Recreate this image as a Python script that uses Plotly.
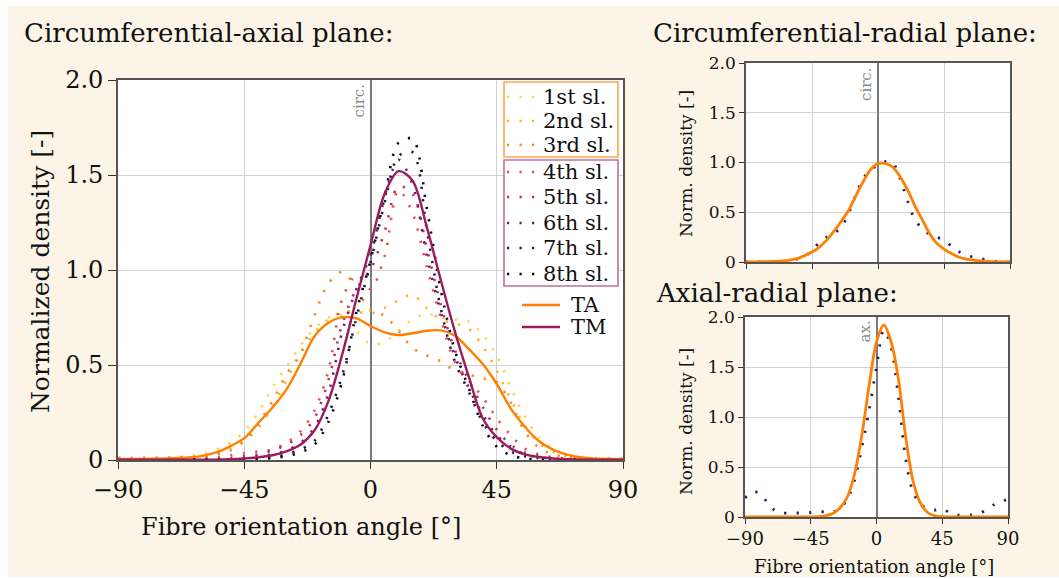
import plotly.graph_objects as go

FONT = "DejaVu Serif"
W, H = 1059, 579

# ---------------- data ----------------
ANGLES = list(range(-90, 91, 5))

slice_names = ["1st sl.", "2nd sl.", "3rd sl.", "4th sl.", "5th sl.", "6th sl.", "7th sl.", "8th sl."]
slice_colors = ["#fcd44a", "#fbb21f", "#f7891d", "#e6504a", "#b6305f", "#6b1b6f", "#2c1152", "#0a0612"]

s1 = [0.01, 0.01, 0.01, 0.012, 0.015, 0.02, 0.03, 0.055, 0.09, 0.15, 0.25, 0.38, 0.49, 0.6, 0.69, 0.75, 0.76, 0.68, 0.61,
      0.62, 0.68, 0.74, 0.77, 0.75, 0.74, 0.73, 0.66, 0.55, 0.38, 0.23, 0.12, 0.06, 0.03, 0.015, 0.01, 0.01, 0.01]
s2 = [0.01, 0.01, 0.01, 0.01, 0.012, 0.015, 0.02, 0.035, 0.06, 0.1, 0.17, 0.28, 0.42, 0.56, 0.67, 0.74, 0.78, 0.78, 0.77,
      0.8, 0.84, 0.87, 0.8, 0.74, 0.72, 0.69, 0.6, 0.47, 0.32, 0.18, 0.09, 0.045, 0.02, 0.012, 0.008, 0.006, 0.005]
s3 = [0.01, 0.01, 0.01, 0.01, 0.012, 0.015, 0.02, 0.03, 0.05, 0.1, 0.19, 0.31, 0.45, 0.56, 0.76, 0.93, 0.99, 0.9, 0.79,
      0.76, 0.68, 0.59, 0.55, 0.52, 0.47, 0.45, 0.43, 0.41, 0.3, 0.15, 0.065, 0.03, 0.015, 0.01, 0.008, 0.006, 0.005]
s4 = [0.005, 0.005, 0.005, 0.005, 0.006, 0.008, 0.01, 0.015, 0.025, 0.035, 0.045, 0.055, 0.09, 0.15, 0.26, 0.47, 0.85, 0.97, 0.9,
      1.07, 1.42, 1.3, 1.02, 0.75, 0.52, 0.42, 0.33, 0.22, 0.13, 0.06, 0.03, 0.015, 0.008, 0.006, 0.005, 0.005, 0.005]
s5 = [0.003, 0.003, 0.003, 0.003, 0.003, 0.003, 0.003, 0.003, 0.01, 0.02, 0.03, 0.05, 0.08, 0.13, 0.22, 0.42, 0.72, 0.9, 1.0,
      1.2, 1.44, 1.4, 1.12, 0.82, 0.58, 0.42, 0.28, 0.16, 0.08, 0.04, 0.02, 0.01, 0.005, 0.003, 0.003, 0.003, 0.003]
s6 = [0.002, 0.002, 0.002, 0.002, 0.002, 0.002, 0.002, 0.002, 0.002, 0.01, 0.02, 0.03, 0.05, 0.09, 0.17, 0.35, 0.68, 0.9, 1.08,
      1.38, 1.58, 1.45, 1.08, 0.78, 0.55, 0.38, 0.24, 0.13, 0.07, 0.03, 0.015, 0.008, 0.004, 0.002, 0.002, 0.002, 0.002]
s7 = [0.002, 0.002, 0.002, 0.002, 0.002, 0.002, 0.002, 0.002, 0.002, 0.002, 0.008, 0.015, 0.03, 0.055, 0.1, 0.24, 0.45, 0.75, 1.04,
      1.35, 1.6, 1.62, 1.22, 0.8, 0.52, 0.36, 0.2, 0.1, 0.045, 0.02, 0.01, 0.005, 0.002, 0.002, 0.002, 0.002, 0.002]
s8 = [0.002, 0.002, 0.002, 0.002, 0.002, 0.002, 0.002, 0.002, 0.002, 0.002, 0.005, 0.01, 0.02, 0.04, 0.08, 0.2, 0.42, 0.78, 1.05,
      1.38, 1.67, 1.69, 1.33, 0.9, 0.58, 0.38, 0.18, 0.07, 0.025, 0.008, 0.004, 0.002, 0.002, 0.002, 0.002, 0.002, 0.002]
slices = [s1, s2, s3, s4, s5, s6, s7, s8]

ta_fit = [0.005, 0.005, 0.006, 0.007, 0.009, 0.013, 0.022, 0.04, 0.072, 0.115, 0.195, 0.275, 0.37, 0.505, 0.65, 0.722, 0.752, 0.745, 0.705,
          0.672, 0.658, 0.667, 0.68, 0.682, 0.655, 0.585, 0.505, 0.4, 0.27, 0.175, 0.1, 0.055, 0.028, 0.013, 0.007, 0.005, 0.004]
tm_fit = [0.002, 0.002, 0.002, 0.002, 0.002, 0.002, 0.002, 0.002, 0.004, 0.008, 0.014, 0.025, 0.045, 0.08, 0.155, 0.31, 0.56, 0.85, 1.13,
          1.4, 1.52, 1.47, 1.23, 0.95, 0.68, 0.44, 0.22, 0.12, 0.06, 0.03, 0.016, 0.008, 0.004, 0.002, 0.002, 0.002, 0.002]
fit_names = ["TA", "TM"]

cr_fit = [0, 0.001, 0.002, 0.003, 0.005, 0.01, 0.02, 0.035, 0.065, 0.1, 0.15, 0.22, 0.31, 0.41, 0.52, 0.67, 0.81, 0.93, 0.99,
          0.99, 0.955, 0.86, 0.73, 0.57, 0.43, 0.29, 0.19, 0.13, 0.085, 0.05, 0.03, 0.018, 0.01, 0.006, 0.003, 0.001, 0]
cr_data = [0, 0, 0, 0, 0, 0.002, 0.01, 0.03, 0.06, 0.11, 0.2, 0.25, 0.29, 0.35, 0.49, 0.68, 0.84, 0.93, 0.97,
           1.01, 1.0, 0.84, 0.62, 0.43, 0.34, 0.28, 0.25, 0.22, 0.16, 0.105, 0.07, 0.05, 0.035, 0.02, 0.007, 0.002, 0]

ar_fit = [0, 0, 0, 0, 0, 0, 0, 0, 0, 0.001, 0.003, 0.012, 0.035, 0.09, 0.2, 0.43, 0.82, 1.32, 1.75,
          1.92, 1.75, 1.38, 0.8, 0.36, 0.14, 0.045, 0.012, 0.003, 0, 0, 0, 0, 0, 0, 0, 0, 0]
ar_data = [0.19, 0.25, 0.24, 0.15, 0.07, 0.04, 0.04, 0.04, 0.04, 0.045, 0.055, 0.05, 0.05, 0.085, 0.18, 0.37, 0.7, 1.07, 1.5,
           1.87, 1.7, 1.2, 0.58, 0.25, 0.13, 0.08, 0.07, 0.085, 0.04, 0.02, 0.02, 0.02, 0.035, 0.07, 0.12, 0.15, 0.18]

x_ticks = [-90, -45, 0, 45, 90]
x_ticktext = ["\u221290", "\u221245", "0", "45", "90"]
y_ticks = [0, 0.5, 1.0, 1.5, 2.0]
y_ticktext = ["0", "0.5", "1.0", "1.5", "2.0"]

# ---------------- style ----------------
ORANGE = "#ff8000"
TM_COL = "#9a1d5a"
NAVY = "#2b1a62"
DOT = "2.2px,10.3px"
GRID = "#d2d2d2"
TXT = "#111111"


def px_x(p):            # window pixel -> paper fraction
    return p / W


def px_y(p):
    return 1 - p / H


fig = go.Figure()

for name, col, vals in zip(slice_names, slice_colors, slices):
    fig.add_trace(go.Scatter(
        x=ANGLES, y=vals, name=name, mode="lines", showlegend=False,
        line=dict(color=col, width=2.6, dash=DOT, shape="spline", smoothing=0.9),
        xaxis="x", yaxis="y", hoverinfo="skip"))

for name, col, vals in zip(fit_names, [ORANGE, TM_COL], [ta_fit, tm_fit]):
    fig.add_trace(go.Scatter(x=ANGLES, y=vals, name=name, mode="lines", showlegend=False,
                             line=dict(color=col, width=2.4, shape="spline", smoothing=0.9),
                             xaxis="x", yaxis="y"))

fig.add_trace(go.Scatter(x=ANGLES, y=cr_data, mode="lines", showlegend=False,
                         line=dict(color=NAVY, width=2.8, dash=DOT, shape="spline", smoothing=0.9),
                         xaxis="x2", yaxis="y2"))
fig.add_trace(go.Scatter(x=ANGLES, y=cr_fit, mode="lines", showlegend=False,
                         line=dict(color=ORANGE, width=2.8, shape="spline", smoothing=0.9),
                         xaxis="x2", yaxis="y2"))
fig.add_trace(go.Scatter(x=ANGLES, y=ar_data, mode="lines", showlegend=False,
                         line=dict(color=NAVY, width=2.8, dash=DOT, shape="spline", smoothing=0.9),
                         xaxis="x3", yaxis="y3"))
fig.add_trace(go.Scatter(x=ANGLES, y=ar_fit, mode="lines", showlegend=False,
                         line=dict(color=ORANGE, width=2.8, shape="spline", smoothing=0.9),
                         xaxis="x3", yaxis="y3"))


def xaxis(domain, anchor, size, labels=True, ticklen=6):
    return dict(domain=domain, anchor=anchor, range=[-90, 90], tickvals=x_ticks, ticktext=x_ticktext,
                showticklabels=labels, showgrid=True, gridcolor=GRID, gridwidth=1.2,
                zeroline=True, zerolinecolor="#7a7a7a", zerolinewidth=1.6,
                showline=True, mirror=True, linecolor="#555555", linewidth=1.6,
                ticks="outside", ticklen=ticklen, tickwidth=1.2, tickcolor="#333333",
                tickfont=dict(family=FONT, size=size, color=TXT), fixedrange=True, automargin=False)


def yaxis(domain, anchor, size, ticklen=6):
    return dict(domain=domain, anchor=anchor, range=[0, 2.0], tickvals=y_ticks, ticktext=y_ticktext,
                showgrid=True, gridcolor=GRID, gridwidth=1.2, zeroline=False,
                showline=True, mirror=True, linecolor="#555555", linewidth=1.6,
                ticks="outside", ticklen=ticklen, tickwidth=1.2, tickcolor="#333333",
                tickfont=dict(family=FONT, size=size, color=TXT), fixedrange=True, automargin=False)


def label(text, x, y, size, angle=0, anchor="left", color=TXT):
    return dict(text=text, x=px_x(x), y=px_y(y), xref="paper", yref="paper", textangle=angle,
                xanchor=anchor, yanchor="middle", showarrow=False,
                font=dict(family=FONT, size=size, color=color))


annotations = [
    label("Circumferential-axial plane:", 22, 33, 26),
    label("Circumferential-radial plane:", 651, 33, 26),
    label("Axial-radial plane:", 654, 293, 26),
    label("Normalized density [-]", 40, 272, 25, angle=-90, anchor="center"),
    label("Fibre orientation angle [°]", 301, 527, 24, anchor="center"),
    label("Norm. density [-]", 686, 164, 17, angle=-90, anchor="center"),
    label("Norm. density [-]", 686, 422, 17, angle=-90, anchor="center"),
    label("Fibre orientation angle [°]", 874, 566, 18, anchor="center"),
]
for xr, yr, txt in [("x", "y", "circ."), ("x2", "y2", "circ."), ("x3", "y3", "ax.")]:
    annotations.append(dict(text=txt, x=0, y=2.0, xref=xr, yref=yr, textangle=-90, xanchor="right",
                            yanchor="top", xshift=-1, yshift=-2, showarrow=False,
                            font=dict(family=FONT, size=15, color="#8a8a8a")))

# ---------------- hand-made legend (two framed groups + fit lines) ----------------
shapes = [
    dict(type="rect", xref="paper", yref="paper", x0=px_x(504), x1=px_x(618), y0=px_y(157), y1=px_y(82),
         fillcolor="white", line=dict(color="#ffa64d", width=1.6)),
    dict(type="rect", xref="paper", yref="paper", x0=px_x(504), x1=px_x(618), y0=px_y(286), y1=px_y(160),
         fillcolor="white", line=dict(color="#c0709a", width=1.6)),
    # thin white page border seen around the reference picture
    dict(type="rect", xref="paper", yref="paper", x0=0, x1=1, y0=px_y(6), y1=1,
         fillcolor="white", line=dict(width=0), layer="above"),
    dict(type="rect", xref="paper", yref="paper", x0=0, x1=px_x(8), y0=0, y1=1,
         fillcolor="white", line=dict(width=0), layer="above"),
    dict(type="rect", xref="paper", yref="paper", x0=0, x1=1, y0=0, y1=px_y(577),
         fillcolor="white", line=dict(width=0), layer="above"),
]
entry_y = [97, 121, 145, 172, 197, 223, 248, 274]
for name, col, yy in zip(slice_names, slice_colors, entry_y):
    shapes.append(dict(type="line", xref="paper", yref="paper", x0=px_x(507), x1=px_x(537),
                       y0=px_y(yy), y1=px_y(yy), line=dict(color=col, width=2.6, dash=DOT)))
    annotations.append(label(name, 541, yy, 21))
for name, col, yy in zip(fit_names, [ORANGE, TM_COL], [305, 327]):
    shapes.append(dict(type="line", xref="paper", yref="paper", x0=px_x(522), x1=px_x(560),
                       y0=px_y(yy), y1=px_y(yy), line=dict(color=col, width=2.4)))
    annotations.append(label(name, 569, yy, 21))

fig.update_layout(
    width=W, height=H, margin=dict(l=0, r=0, t=0, b=0, pad=0, autoexpand=False),
    paper_bgcolor="#fcf5e7", plot_bgcolor="white",
    font=dict(family=FONT, color=TXT),
    xaxis=xaxis([px_x(118), px_x(623)], "y", 24, ticklen=7),
    yaxis=yaxis([px_y(460), px_y(80)], "x", 24, ticklen=8),
    xaxis2=xaxis([px_x(746), px_x(1010)], "y2", 17, labels=False, ticklen=5),
    yaxis2=yaxis([px_y(262), px_y(63)], "x2", 17, ticklen=5),
    xaxis3=xaxis([px_x(745), px_x(1008)], "y3", 18, ticklen=5),
    yaxis3=yaxis([px_y(517), px_y(317)], "x3", 17, ticklen=5),
    annotations=annotations,
    shapes=shapes,
    showlegend=False,
)

fig.write_html("out.html")
